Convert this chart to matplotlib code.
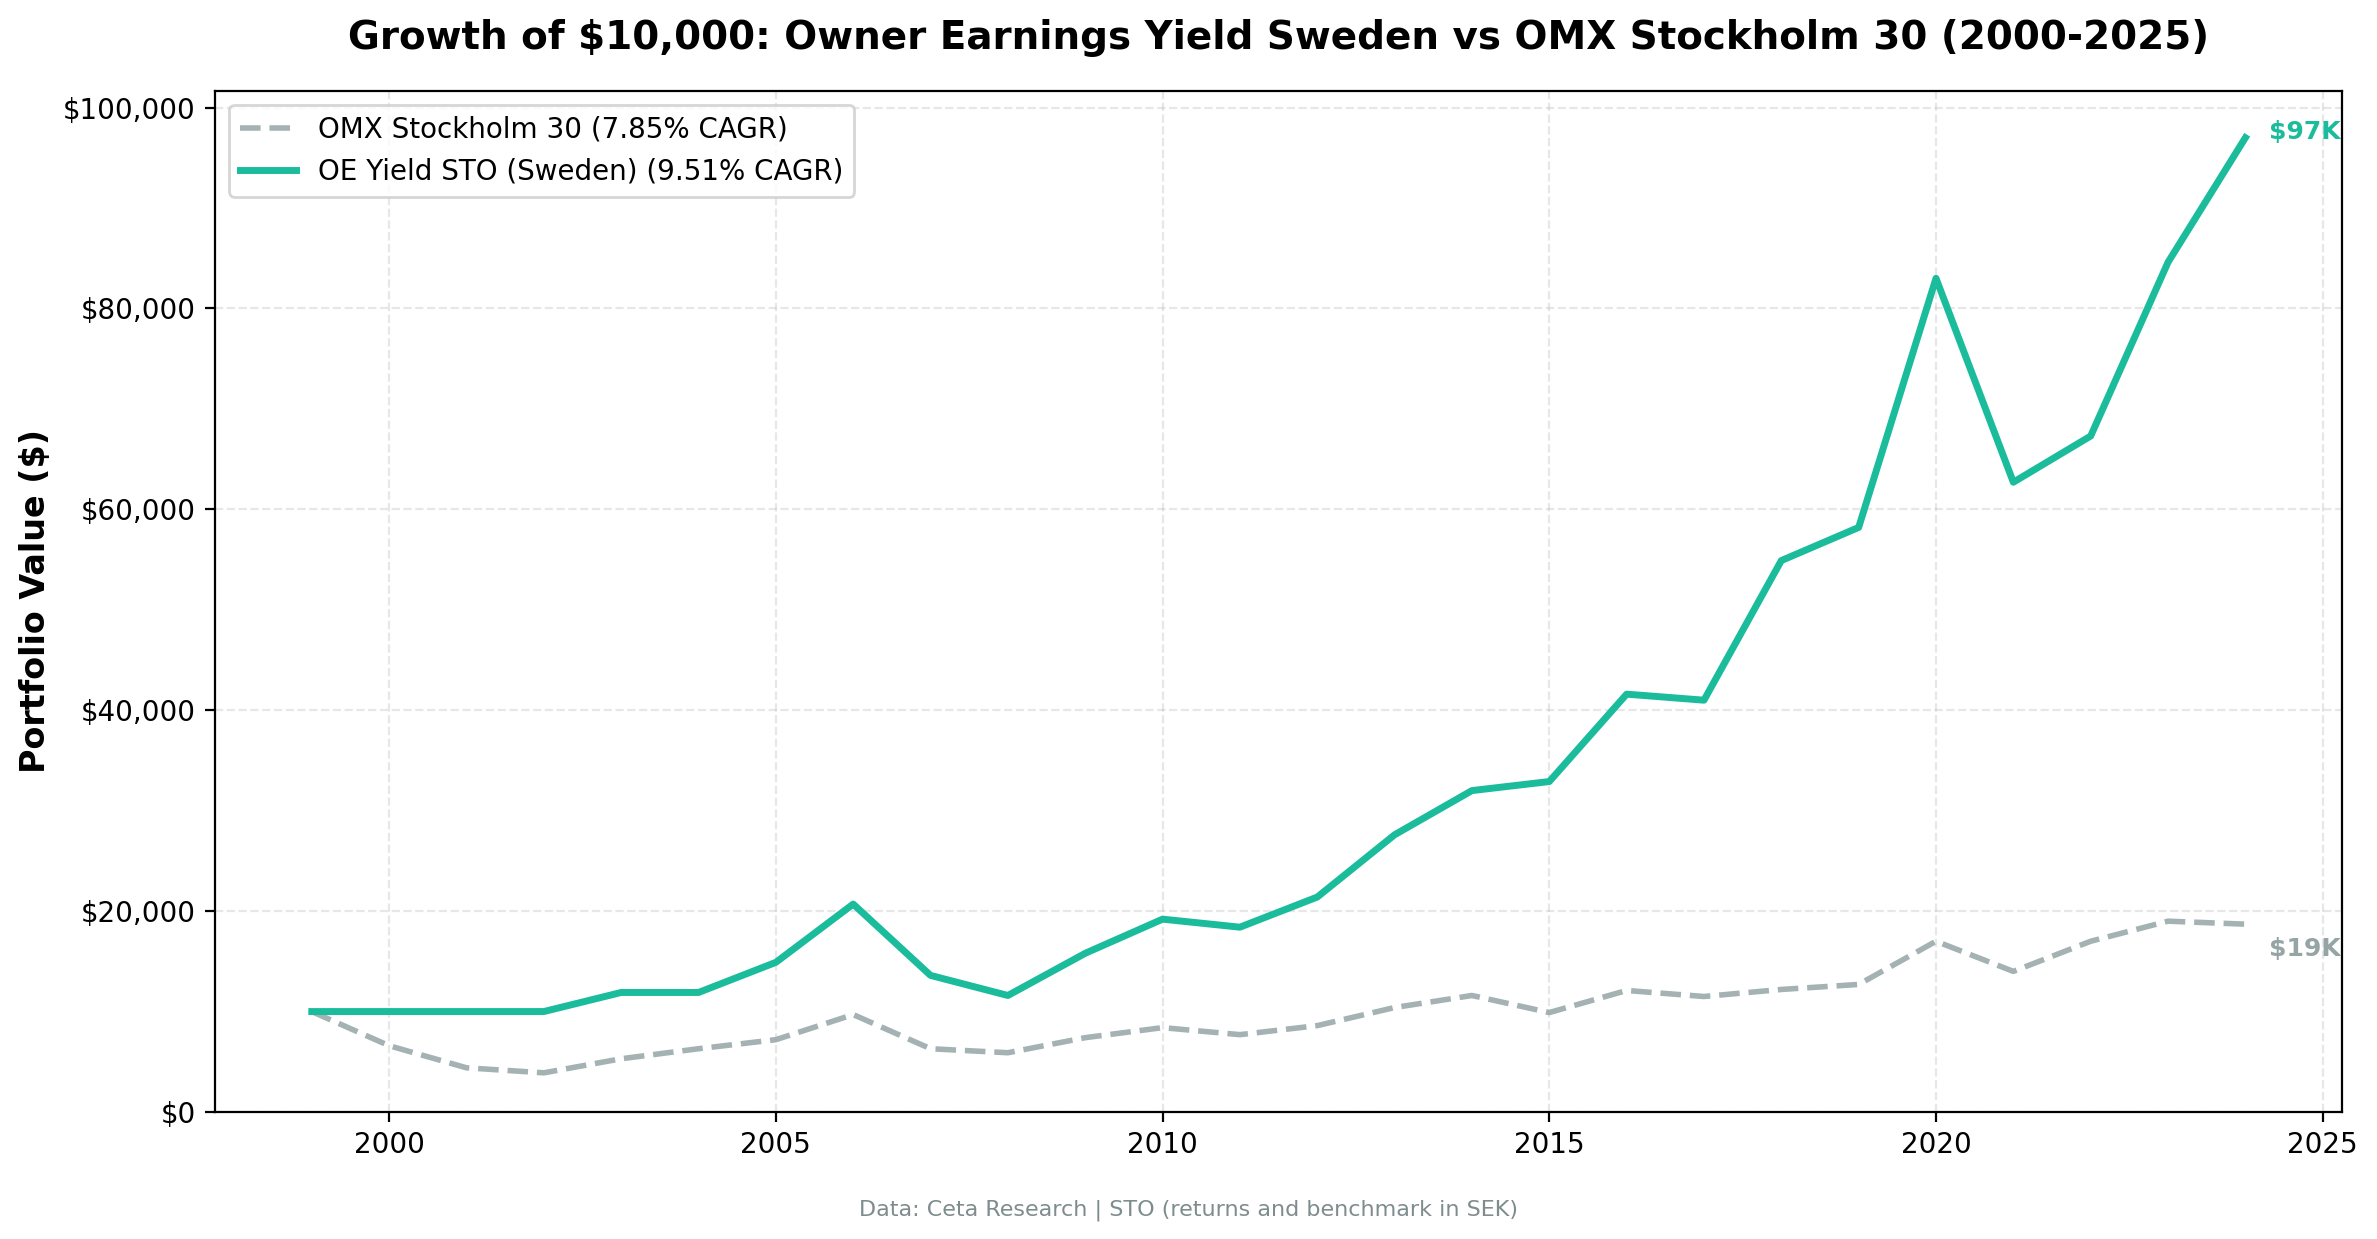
import matplotlib.pyplot as plt
from matplotlib.ticker import FuncFormatter

# Valores (carteira de $10.000)
anos = list(range(1999, 2025))
oe_yield = [10000, 10000, 10000, 10000, 11900, 11900, 14900, 20700, 13600, 11600,
            15800, 19200, 18400, 21400, 27600, 32000, 32900, 41600, 41000, 54900,
            58200, 83000, 62700, 67300, 84600, 97000]
omx = [10000, 6600, 4400, 3900, 5300, 6300, 7200, 9700, 6300, 5900,
       7400, 8400, 7700, 8600, 10400, 11600, 9900, 12100, 11500, 12200,
       12700, 17000, 14000, 17000, 19000, 18700]

label_omx = 'OMX Stockholm 30 (7.85% CAGR)'
label_oe = 'OE Yield STO (Sweden) (9.51% CAGR)'

COR_OE = '#1ABC9C'
COR_OMX = '#95A5A6'

DPI = 200
fig, ax = plt.subplots(figsize=(2377 / DPI, 1239 / DPI), dpi=DPI)
fig.subplots_adjust(left=0.0905, right=0.9853, top=0.9266, bottom=0.1025)

ax.plot(anos, omx, color=COR_OMX, linestyle='--', linewidth=2, alpha=0.85,
        label=label_omx)
ax.plot(anos, oe_yield, color=COR_OE, linewidth=2.5, label=label_oe)

# Rótulos de valor final
ax.text(anos[-1] + 0.3, oe_yield[-1] + 600, f'${oe_yield[-1] / 1000:.0f}K',
        color=COR_OE, fontsize=9, fontweight='bold', va='center', ha='left')
ax.text(anos[-1] + 0.3, omx[-1] - 2500, f'${omx[-1] / 1000:.0f}K',
        color=COR_OMX, fontsize=9, fontweight='bold', va='center', ha='left')

ax.set_ylim(bottom=0)
ax.yaxis.set_major_formatter(FuncFormatter(lambda v, _: f'${v:,.0f}'))
ax.set_ylabel('Portfolio Value ($)', fontsize=12, fontweight='bold')
ax.set_title('Growth of $10,000: Owner Earnings Yield Sweden vs OMX Stockholm 30 (2000-2025)',
             fontsize=14, fontweight='bold', pad=15)
ax.tick_params(labelsize=10)
ax.grid(True, linestyle='--', alpha=0.3)
ax.legend(loc='upper left', fontsize=10)

fig.text(0.5, 0.019, 'Data: Ceta Research | STO (returns and benchmark in SEK)',
         ha='center', fontsize=8, color='#7F8C8D')

plt.savefig('out.png', dpi=DPI)
plt.close()
